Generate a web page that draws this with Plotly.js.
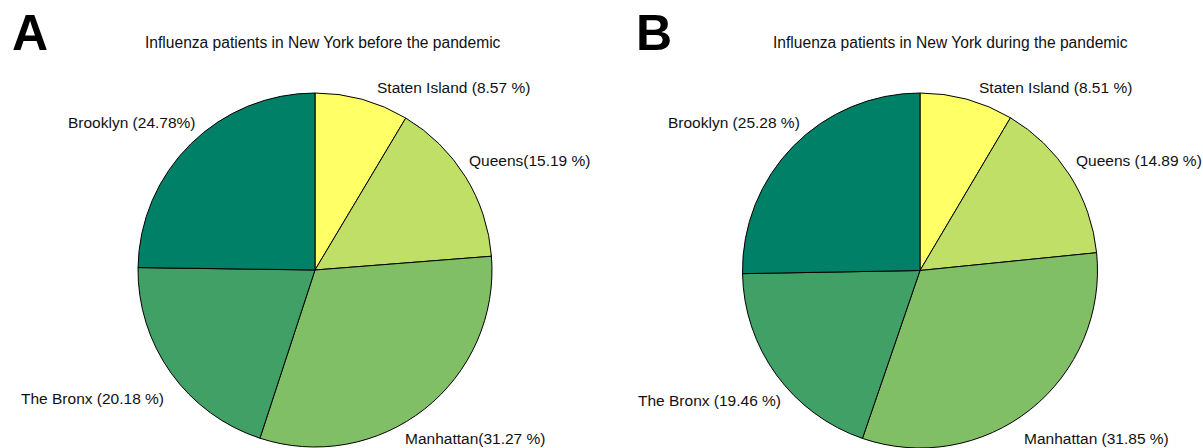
<!DOCTYPE html>
<html>
<head>
<meta charset="utf-8">
<script src="https://cdn.plot.ly/plotly-3.0.1.min.js"></script>
<style>html,body{margin:0;padding:0;background:#fff;}#chart{width:1203px;height:448px;}</style>
</head>
<body>
<div id="chart"></div>
<script>
// Data
const categories = ["Staten Island", "Queens", "Manhattan", "The Bronx", "Brooklyn"];
const valuesBefore = [8.57, 15.19, 31.27, 20.18, 24.78];
const valuesDuring = [8.51, 14.89, 31.85, 19.46, 25.28];
const labelsBefore = ["Staten Island (8.57 %)", "Queens(15.19 %)", "Manhattan(31.27 %)", "The Bronx (20.18 %)", "Brooklyn (24.78%)"];
const labelsDuring = ["Staten Island (8.51 %)", "Queens (14.89 %)", "Manhattan (31.85 %)", "The Bronx (19.46 %)", "Brooklyn (25.28 %)"];
const titles = ["Influenza patients in New York before the pandemic", "Influenza patients in New York during the pandemic"];
const panelLetters = ["A", "B"];

// Styles
const sliceColors = ["#FFFF66", "#BFDF66", "#80BF66", "#40A066", "#008066"];
const W = 1203, H = 448;
const px = v => v / W;
const py = v => 1 - v / H;

function pieTrace(values, dom) {
  return {
    type: "pie",
    labels: categories,
    values: values,
    sort: false,
    direction: "clockwise",
    rotation: 0,
    textinfo: "none",
    hoverinfo: "label+percent",
    marker: {colors: sliceColors, line: {color: "#000", width: 1}},
    domain: dom,
    showlegend: false
  };
}

const traces = [
  pieTrace(valuesBefore, {x: [px(138), px(492)], y: [py(447), py(93)]}),
  pieTrace(valuesDuring, {x: [px(742), px(1098)], y: [py(448), py(93)]})
];

const labelFont = {family: "Liberation Sans, Arial, sans-serif", size: 15.5, color: "#111"};
// label anchor positions (left edge px, middle y px) for each slice in each panel
const labelPosA = [[375, 88], [467, 160], [403, 438], [19, 398], [66, 122]];
const labelPosB = [[977, 88], [1074, 160], [1022, 438], [636, 400], [666, 123]];

const annotations = [];
function addLabels(texts, pos) {
  texts.forEach((t, i) => {
    annotations.push({
      text: t, xref: "paper", yref: "paper",
      x: px(pos[i][0]), y: py(pos[i][1]),
      xanchor: "left", yanchor: "middle", showarrow: false, font: labelFont
    });
  });
}
addLabels(labelsBefore, labelPosA);
addLabels(labelsDuring, labelPosB);

// titles
[[323, 42], [951, 42]].forEach((p, i) => {
  annotations.push({
    text: titles[i], xref: "paper", yref: "paper",
    x: px(p[0]), y: py(p[1]), xanchor: "center", yanchor: "middle",
    showarrow: false, font: {family: "Liberation Sans, Arial, sans-serif", size: 15.6, color: "#111"}
  });
});
// panel letters
[[10, 33], [634, 33]].forEach((p, i) => {
  annotations.push({
    text: "<b>" + panelLetters[i] + "</b>", xref: "paper", yref: "paper",
    x: px(p[0]), y: py(p[1]), xanchor: "left", yanchor: "middle",
    showarrow: false, font: {family: "Liberation Sans, Arial, sans-serif", size: 50, color: "#000"}
  });
});

const layout = {
  width: W, height: H,
  margin: {l: 0, r: 0, t: 0, b: 0},
  paper_bgcolor: "#fff",
  plot_bgcolor: "#fff",
  annotations: annotations,
  showlegend: false
};

Plotly.newPlot("chart", traces, layout, {displayModeBar: false, staticPlot: true});
</script>
</body>
</html>
